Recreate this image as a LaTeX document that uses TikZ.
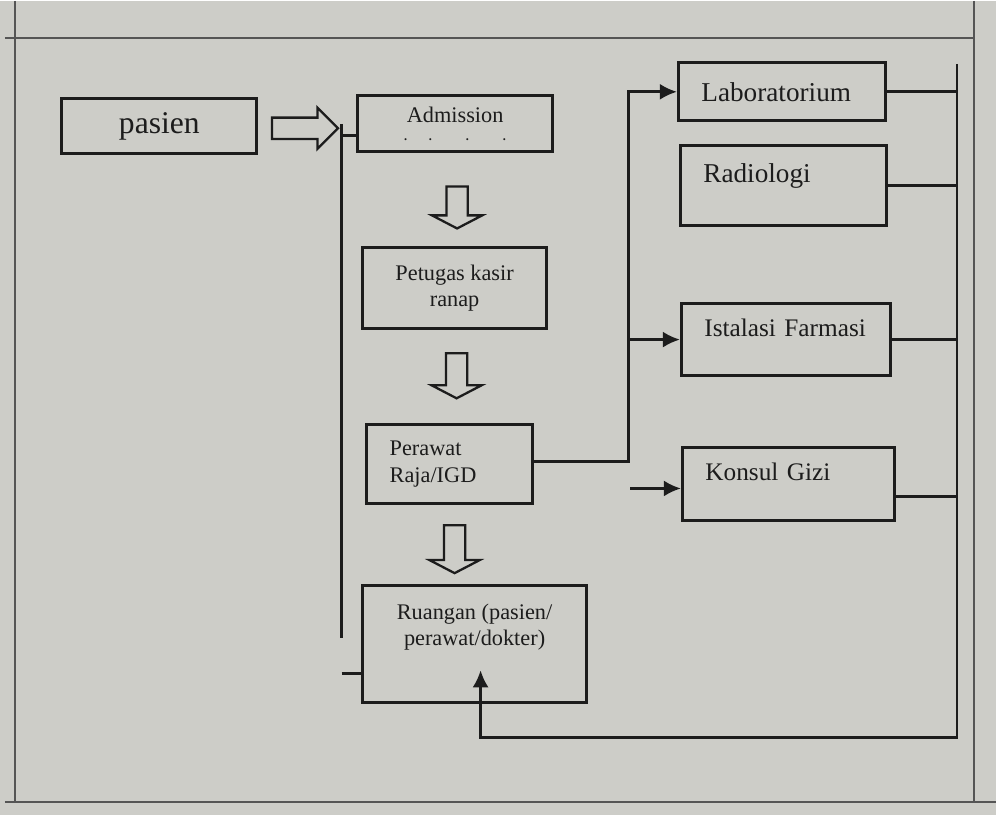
\documentclass[tikz,border=0pt]{standalone}
\usepackage{fontspec}
\setmainfont{Liberation Serif}
\usetikzlibrary{shapes.arrows,arrows.meta}
\definecolor{paper}{RGB}{205,205,200}
\definecolor{ink}{RGB}{28,28,28}

\begin{document}
\begin{tikzpicture}[x=.2mm,y=-.2mm,
  box/.style={draw=ink,line width=1.7pt,text=ink,inner sep=0pt},
  mid/.style={box,align=center,font=\fontsize{12.7}{15}\selectfont},
  side/.style={box,align=left,inner xsep=4.6mm,font=\fontsize{15.5}{18}\selectfont},
  hollow/.style={single arrow,draw=ink,line width=1.3pt,inner sep=1.9mm},
  wire/.style={ink,line width=1.5pt},
  tip/.style={wire,-{Latex[length=3.4mm,width=3.2mm]}}]

% page and frame
\fill[paper] (0,0) rectangle (997,815);
\draw[ink!75,line width=1pt] (5,37) -- (975,37) (15,0) -- (15,802) (975,0) -- (975,802) (5,802) -- (997,802);

% left column
\node[box,minimum width=39mm,minimum height=11mm,font=\fontsize{18}{20}\selectfont] (pasien) at (159.5,125.5) {pasien};
\node[hollow,minimum height=13.2mm,minimum width=7.8mm,single arrow head extend=2mm] (inarrow) at (300,127.5) {};
\node[mid,minimum width=39mm,minimum height=11.2mm] (adm) at (455.5,123) {Admission\\[-5pt]{\scriptsize\bfseries .\hspace{4.3mm}.\hspace{6.8mm}.\hspace{6.8mm}.}};
\node[hollow,shape border rotate=270,minimum height=8.4mm,minimum width=9.6mm,single arrow head extend=2.9mm,single arrow tip angle=125] (down1) at (457.5,204) {};
\node[mid,minimum width=36.8mm,minimum height=16.2mm] (kasir) at (455,287.5) {Petugas kasir\\ranap};
\node[hollow,shape border rotate=270,minimum height=9mm,minimum width=9.6mm,single arrow head extend=2.9mm,single arrow tip angle=125] (down2) at (457,372.5) {};
\node[box,align=left,inner xsep=4.6mm,text width=24mm,minimum height=15.8mm,font=\fontsize{12.7}{15.5}\selectfont] (perawat) at (450,463.5) {Perawat\\Raja/IGD};
\node[hollow,shape border rotate=270,minimum height=9.6mm,minimum width=9.6mm,single arrow head extend=2.9mm,single arrow tip angle=125] (down3) at (455,546) {};
\node[mid,minimum width=44.8mm,minimum height=23.4mm] (ruang) at (475,643.5) {Ruangan (pasien/\\perawat/dokter)\rule[-7.6mm]{0pt}{7.6mm}};

% right column
\node[side,text width=32.2mm,minimum height=11.6mm] (lab) at (782.5,91) {Laboratorium};
\node[side,text width=32mm,minimum height=16mm] (radio) at (784,185) {Radiologi\rule[-5mm]{0pt}{5mm}};
\node[side,text width=32.6mm,minimum height=14.4mm,font=\fontsize{14.4}{17}\selectfont] (farmasi) at (786.5,339) {Istalasi Farmasi\rule[-4.6mm]{0pt}{4.6mm}};
\node[side,text width=33.2mm,minimum height=14.6mm,font=\fontsize{14.4}{17}\selectfont] (gizi) at (789,483.5) {Konsul Gizi\rule[-5mm]{0pt}{5mm}};

% left bus
\coordinate (lbustop) at (342,123);
\coordinate (lbusend) at (342,638);
\coordinate (admtap) at (342,135);
\coordinate (ruangtap) at (342,673);
\draw[wire] (lbustop) -- (lbusend);
\draw[wire] (admtap) -- (admtap -| adm.west);
\draw[wire] (ruangtap) -- (ruangtap -| ruang.west);

% from perawat to the units
\coordinate (fork) at (629,461);
\coordinate (giziin) at (631,488);
\draw[tip] (perawat.east |- fork) -- (fork) |- (lab.west);
\draw[tip] (fork |- farmasi.west) -- (farmasi.west);
\draw[tip] (giziin) -- (giziin -| gizi.west);

% right bus back to ruangan
\coordinate (rbustop) at (958,63);
\coordinate (rbusend) at (958,737);
\coordinate (ruangback) at (481,670);
\foreach \n in {lab,radio,farmasi}
  \draw[wire] (\n.east) -- (\n.east -| rbustop);
\draw[wire] ([yshift=-2.5mm]gizi.east) -- ([yshift=-2.5mm]gizi.east -| rbustop);
\draw[tip] (rbustop) -- (rbusend) -| (ruangback);
\end{tikzpicture}
\end{document}
